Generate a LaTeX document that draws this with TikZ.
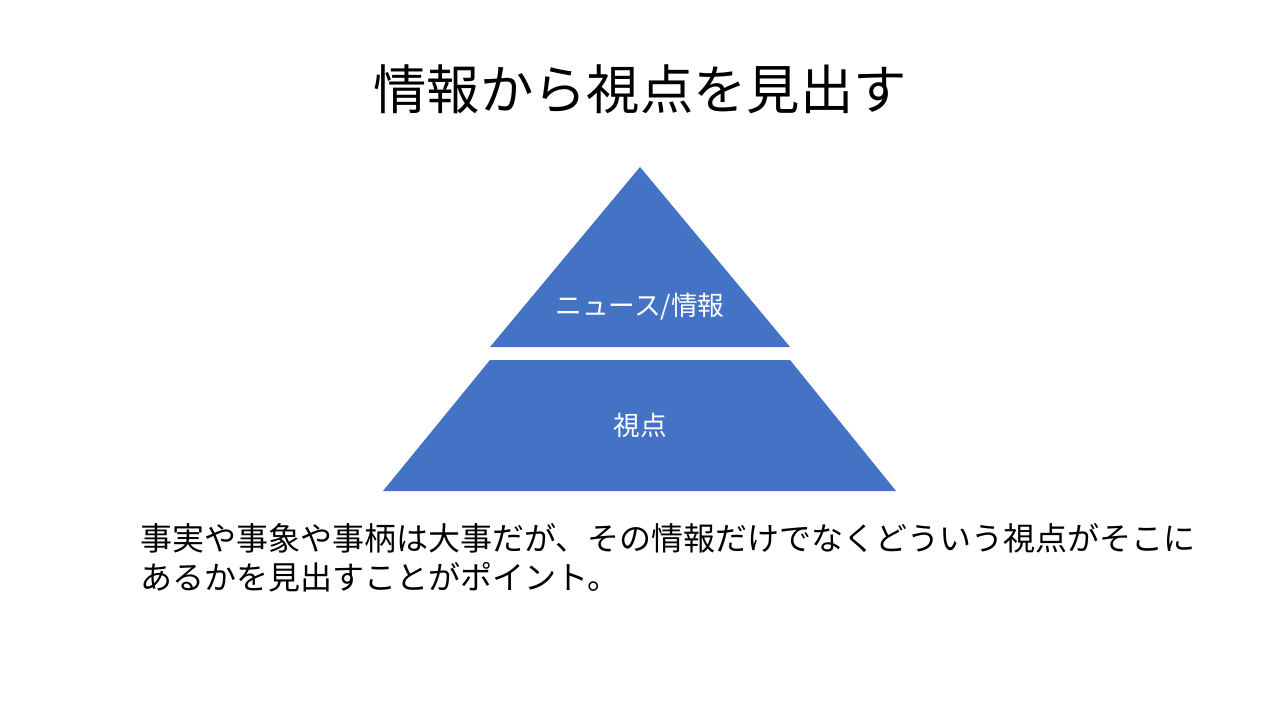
\documentclass[tikz,border=0pt]{standalone}
\usepackage{fontspec}
\setmainfont{Noto Sans CJK JP}
\usepackage{xcolor}
\definecolor{layerblue}{HTML}{4472C4}

\begin{document}
\begin{tikzpicture}[
    x=0.75pt, y=-0.75pt,
    layer/.style={fill=layerblue, draw=none},
    lbl/.style={text=white, inner sep=0pt, anchor=base, font=\fontsize{20}{24}\selectfont},
    title/.style={inner sep=0pt, anchor=base, font=\fontsize{40}{48}\selectfont},
    body/.style={inner sep=0pt, anchor=base west, align=left, font=\fontsize{24}{29}\selectfont}
]
\useasboundingbox (0,0) rectangle (1280,720);
\node[title] (head) at (640,110) {情報から視点を見出す};
% pyramid layers
\fill[layer] (640,167) -- (790,347) -- (490,347) -- cycle;
\fill[layer] (490,360) -- (790,360) -- (896,491) -- (383,491) -- cycle;
\node[lbl] (news) at (640,315) {ニュース/情報};
\node[lbl] (view) at (640,435) {視点};
\node[body] (note) at (140,589) {事実や事象や事柄は大事だが、その情報だけでなくどういう視点がそこに\\あるかを見出すことがポイント。};
\end{tikzpicture}
\end{document}
